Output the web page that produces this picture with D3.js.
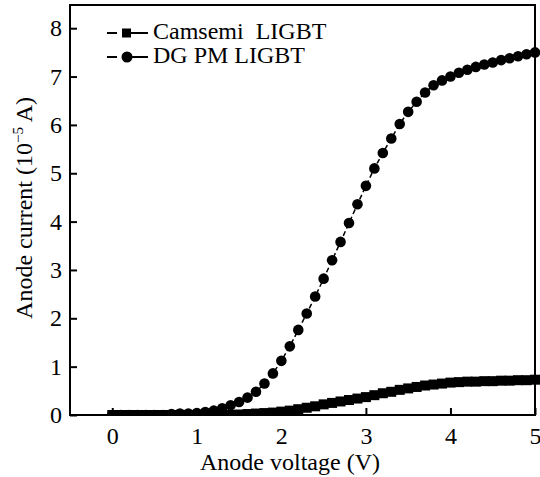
<!DOCTYPE html>
<html>
<head>
<meta charset="utf-8">
<script src="https://cdn.jsdelivr.net/npm/d3@7"></script>
<style>
  body { margin: 0; background: #fff; }
  svg { display: block; }
  text { font-family: "Liberation Serif", "Times New Roman", serif; fill: #000; }
</style>
</head>
<body>
<div id="chart"></div>
<script>
'use strict';

// Anode voltage (V), one point every 0.1 V
var voltage = d3.range(0, 51).map(function (i) { return i / 10; });

// Anode current (10^-5 A)
var camsemi = [
  0, 0, 0, 0, 0, 0, 0, 0, 0, 0,
  0, 0, 0, 0, 0, 0.01, 0.02, 0.03, 0.04, 0.05,
  0.07, 0.09, 0.12, 0.15, 0.18, 0.22, 0.25, 0.28, 0.31, 0.34,
  0.37, 0.41, 0.45, 0.48, 0.52, 0.55, 0.58, 0.61, 0.63, 0.65,
  0.67, 0.68, 0.69, 0.69, 0.70, 0.70, 0.71, 0.71, 0.72, 0.72,
  0.73
];
var dgpm = [
  0, 0, 0, 0, 0, 0, 0, 0.02, 0.03, 0.03,
  0.04, 0.06, 0.09, 0.14, 0.20, 0.27, 0.36, 0.48, 0.65, 0.86,
  1.12, 1.42, 1.76, 2.10, 2.45, 2.82, 3.20, 3.58, 3.97, 4.36,
  4.74, 5.10, 5.42, 5.72, 6.02, 6.27, 6.48, 6.67, 6.82, 6.92,
  7.00, 7.08, 7.14, 7.20, 7.25, 7.29, 7.34, 7.38, 7.42, 7.46,
  7.50
];
var seriesNames = ['Camsemi  LIGBT', 'DG PM LIGBT'];
var xTicks = [0, 1, 2, 3, 4, 5];
var yTicks = [0, 1, 2, 3, 4, 5, 6, 7, 8];

var width = 540, height = 477;
var margin = { top: 5, right: 5, bottom: 62, left: 70 };
var plotW = width - margin.left - margin.right;
var plotH = height - margin.top - margin.bottom;

var svg = d3.select('#chart').append('svg')
  .attr('width', width)
  .attr('height', height);

var x = d3.scaleLinear().domain([-0.5, 5]).range([0, plotW]);
var y = d3.scaleLinear().domain([0, 8.48]).range([plotH, 0]);

var g = svg.append('g')
  .attr('transform', 'translate(' + margin.left + ',' + margin.top + ')');

g.append('clipPath').attr('id', 'plotclip')
  .append('rect')
  .attr('x', 0).attr('y', -5)
  .attr('width', plotW + 10).attr('height', plotH + 6);

// axes, ticks pointing inward
var xAxis = g.append('g')
  .attr('transform', 'translate(0,' + plotH + ')')
  .call(d3.axisBottom(x).tickValues(xTicks).tickFormat(d3.format('d'))
    .tickSizeInner(-7).tickSizeOuter(0).tickPadding(12));
var yAxis = g.append('g')
  .call(d3.axisLeft(y).tickValues(yTicks).tickFormat(d3.format('d'))
    .tickSizeInner(-7).tickSizeOuter(0).tickPadding(8));

[xAxis, yAxis].forEach(function (a) {
  a.attr('font-family', null);
  a.select('.domain').remove();
  a.selectAll('line').attr('stroke', '#000').attr('stroke-width', 2);
  a.selectAll('text').style('font-size', '24px');
});

// frame
g.append('rect')
  .attr('width', plotW).attr('height', plotH)
  .attr('fill', 'none').attr('stroke', '#000').attr('stroke-width', 2);

var line = d3.line()
  .x(function (d) { return x(d[0]); })
  .y(function (d) { return y(d[1]); });

var data = g.append('g').attr('clip-path', 'url(#plotclip)');

var camPts = voltage.map(function (v, i) { return [v, camsemi[i]]; });
var dgPts = voltage.map(function (v, i) { return [v, dgpm[i]]; });

data.append('path').datum(camPts)
  .attr('d', line).attr('fill', 'none').attr('stroke', '#000')
  .attr('stroke-width', 1.5).attr('stroke-dasharray', '5,3');
data.append('path').datum(dgPts)
  .attr('d', line).attr('fill', 'none').attr('stroke', '#000')
  .attr('stroke-width', 1.5).attr('stroke-dasharray', '5,3');

var sq = 10;
data.selectAll('rect.cam').data(camPts).enter().append('rect')
  .attr('class', 'cam')
  .attr('x', function (d) { return x(d[0]) - sq / 2; })
  .attr('y', function (d) { return y(d[1]) - sq / 2; })
  .attr('width', sq).attr('height', sq)
  .attr('fill', '#000');

data.selectAll('circle.dg').data(dgPts).enter().append('circle')
  .attr('class', 'dg')
  .attr('cx', function (d) { return x(d[0]); })
  .attr('cy', function (d) { return y(d[1]); })
  .attr('r', 5.3)
  .attr('fill', '#000');

// legend
var legend = svg.append('g');
seriesNames.forEach(function (name, i) {
  var ly = 33 + i * 24;
  legend.append('line')
    .attr('x1', 107).attr('x2', 117).attr('y1', ly).attr('y2', ly)
    .attr('stroke', '#000').attr('stroke-width', 2);
  legend.append('line')
    .attr('x1', 122).attr('x2', 148).attr('y1', ly).attr('y2', ly)
    .attr('stroke', '#000').attr('stroke-width', 2);
  if (i === 0) {
    legend.append('rect')
      .attr('x', 122).attr('y', ly - 4.5).attr('width', 9).attr('height', 9)
      .attr('fill', '#000');
  } else {
    legend.append('circle')
      .attr('cx', 127).attr('cy', ly).attr('r', 5.5)
      .attr('fill', '#000');
  }
  legend.append('text')
    .attr('x', 153).attr('y', ly + 6)
    .style('font-size', '24px')
    .style('white-space', 'pre')
    .attr('xml:space', 'preserve')
    .text(name);
});

// axis titles
svg.append('text')
  .attr('x', 290).attr('y', 470)
  .attr('text-anchor', 'middle')
  .style('font-size', '24px')
  .text('Anode voltage (V)');

var yTitle = svg.append('text')
  .attr('transform', 'translate(32,208) rotate(-90)')
  .attr('text-anchor', 'middle')
  .style('font-size', '24px');
yTitle.append('tspan').text('Anode current (10');
yTitle.append('tspan').attr('dy', -9).style('font-size', '15px').text('\u22125');
yTitle.append('tspan').attr('dy', 9).text(' A)');
</script>
</body>
</html>
